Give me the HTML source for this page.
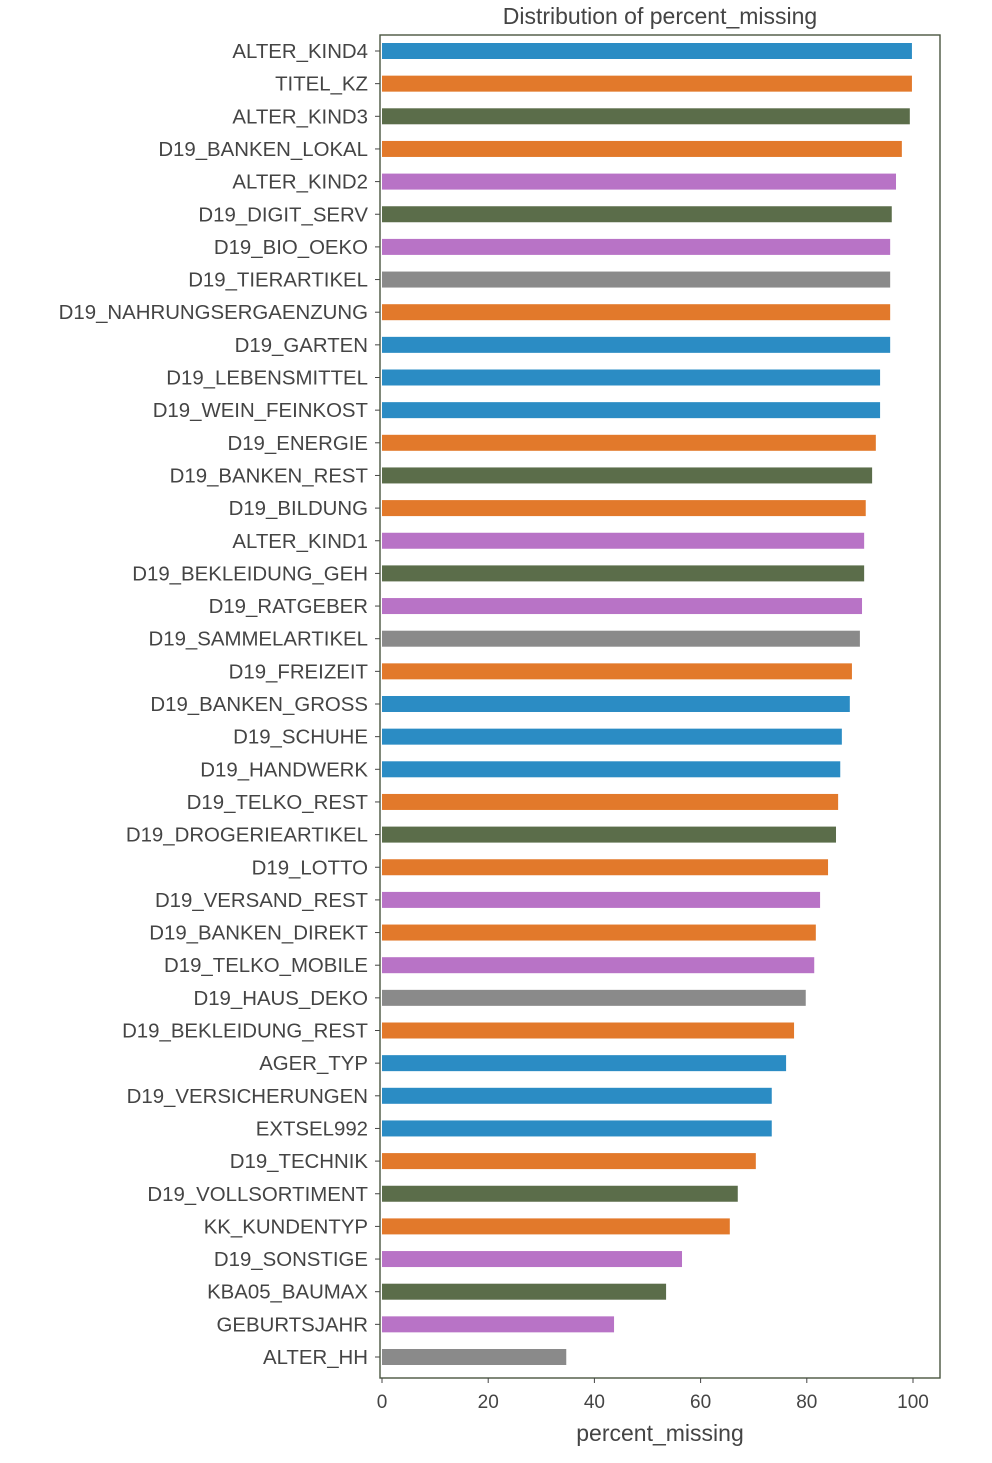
<!DOCTYPE html>
<html><head><meta charset="utf-8">
<style>
html,body{margin:0;padding:0;background:#fff;}
body{width:992px;height:1458px;overflow:hidden;}
svg text{font-family:"Liberation Sans","DejaVu Sans",sans-serif;fill:#444;}
</style></head>
<body>
<svg id="chart" width="992" height="1458" viewBox="0 0 992 1458"></svg>
<script>
const categories=["ALTER_KIND4","TITEL_KZ","ALTER_KIND3","D19_BANKEN_LOKAL","ALTER_KIND2","D19_DIGIT_SERV","D19_BIO_OEKO","D19_TIERARTIKEL","D19_NAHRUNGSERGAENZUNG","D19_GARTEN","D19_LEBENSMITTEL","D19_WEIN_FEINKOST","D19_ENERGIE","D19_BANKEN_REST","D19_BILDUNG","ALTER_KIND1","D19_BEKLEIDUNG_GEH","D19_RATGEBER","D19_SAMMELARTIKEL","D19_FREIZEIT","D19_BANKEN_GROSS","D19_SCHUHE","D19_HANDWERK","D19_TELKO_REST","D19_DROGERIEARTIKEL","D19_LOTTO","D19_VERSAND_REST","D19_BANKEN_DIREKT","D19_TELKO_MOBILE","D19_HAUS_DEKO","D19_BEKLEIDUNG_REST","AGER_TYP","D19_VERSICHERUNGEN","EXTSEL992","D19_TECHNIK","D19_VOLLSORTIMENT","KK_KUNDENTYP","D19_SONSTIGE","KBA05_BAUMAX","GEBURTSJAHR","ALTER_HH"];
const values=[99.8,99.8,99.4,97.9,96.8,96.0,95.7,95.7,95.7,95.7,93.8,93.8,93.0,92.3,91.1,90.8,90.8,90.4,90.0,88.5,88.1,86.6,86.3,85.9,85.5,84.0,82.5,81.7,81.4,79.8,77.6,76.1,73.4,73.4,70.4,67.0,65.5,56.5,53.5,43.7,34.7];
const colorKeys=["b","o","g","o","p","g","p","k","o","b","b","b","o","g","o","p","g","p","k","o","b","b","b","o","g","o","p","o","p","k","o","b","b","b","o","g","o","p","g","p","k"];
const xTicks=[0,20,40,60,80,100];
const palette={b:"#2b8cc4",o:"#e2792b",g:"#5b6d4a",p:"#b873c6",k:"#8a8a8a"};
const NS="http://www.w3.org/2000/svg";
const svg=document.getElementById('chart');
const L=380,R=940,T=35,B=1378;
const x=v=>382+v*5.31;
const y=i=>51+i*(1306/(categories.length-1));
function mk(tag,attrs,parent){const e=document.createElementNS(NS,tag);for(const k in attrs)e.setAttribute(k,attrs[k]);(parent||svg).appendChild(e);return e;}
categories.forEach((c,i)=>{
  const r=mk('rect',{x:x(0),y:y(i)-8,width:x(values[i])-x(0),height:16,fill:palette[colorKeys[i]]});
  
  
  mk('line',{x1:L-5,x2:L,y1:y(i),y2:y(i),stroke:'#444','stroke-width':1});
  const t=mk('text',{x:L-12,y:y(i)+7,'text-anchor':'end','font-size':20.4});
  t.textContent=c;
  
  
});
const frame=mk('rect',{x:L,y:T,width:R-L,height:B-T,fill:'none',stroke:'#4a5540','stroke-width':1.4});


xTicks.forEach(v=>{
  mk('line',{x1:x(v),x2:x(v),y1:B,y2:B+5,stroke:'#444','stroke-width':1});
  const t=mk('text',{x:x(v),y:B+30,'text-anchor':'middle','font-size':19});
  t.textContent=v;
  
  
});
const xt=mk('text',{x:660,y:1441,'text-anchor':'middle','font-size':23});
xt.textContent='percent_missing';


const tt=mk('text',{x:660,y:24,'text-anchor':'middle','font-size':23});
tt.textContent='Distribution of percent_missing';


</script>
</body></html>
